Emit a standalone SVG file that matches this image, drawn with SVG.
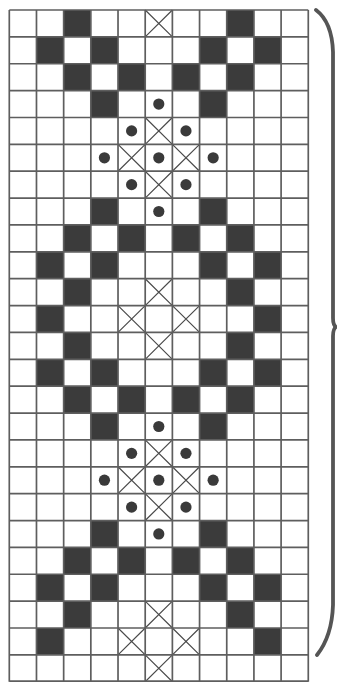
<svg xmlns="http://www.w3.org/2000/svg" width="337" height="682" viewBox="0 0 337 682">
<style>
.grid line{stroke:#5e5e5e;stroke-width:1.7}
.b{fill:#3b3b3b}
.x{stroke:#4a4a4a;stroke-width:1.2;fill:none}
.d{fill:#3a3a3a}
.brace{fill:none;stroke:#555;stroke-width:3.8;stroke-linecap:round;stroke-linejoin:round}
</style>
<defs>
<rect id="B" class="b" width="27.18" height="26.87"/>
<path id="X" class="x" d="M0,0 L27.18,26.87 M27.18,0 L0,26.87"/>
<circle id="D" class="d" cx="13.59" cy="13.43" r="5.6"/>
</defs>
<rect x="0" y="0" width="337" height="682" fill="#fff"/>
<g id="cells">
<use href="#B" x="63.66" y="10"/><use href="#B" x="226.74" y="10"/><use href="#X" x="145.2" y="10"/>
<use href="#B" x="36.48" y="36.87"/><use href="#B" x="90.84" y="36.87"/><use href="#B" x="199.56" y="36.87"/><use href="#B" x="253.92" y="36.87"/>
<use href="#B" x="63.66" y="63.74"/><use href="#B" x="118.02" y="63.74"/><use href="#B" x="172.38" y="63.74"/><use href="#B" x="226.74" y="63.74"/>
<use href="#B" x="90.84" y="90.61"/><use href="#B" x="199.56" y="90.61"/><use href="#D" x="145.2" y="90.61"/>
<use href="#D" x="118.02" y="117.48"/><use href="#X" x="145.2" y="117.48"/><use href="#D" x="172.38" y="117.48"/>
<use href="#D" x="90.84" y="144.35"/><use href="#X" x="118.02" y="144.35"/><use href="#D" x="145.2" y="144.35"/><use href="#X" x="172.38" y="144.35"/><use href="#D" x="199.56" y="144.35"/>
<use href="#D" x="118.02" y="171.22"/><use href="#X" x="145.2" y="171.22"/><use href="#D" x="172.38" y="171.22"/>
<use href="#B" x="90.84" y="198.09"/><use href="#B" x="199.56" y="198.09"/><use href="#D" x="145.2" y="198.09"/>
<use href="#B" x="63.66" y="224.96"/><use href="#B" x="118.02" y="224.96"/><use href="#B" x="172.38" y="224.96"/><use href="#B" x="226.74" y="224.96"/>
<use href="#B" x="36.48" y="251.83"/><use href="#B" x="90.84" y="251.83"/><use href="#B" x="199.56" y="251.83"/><use href="#B" x="253.92" y="251.83"/>
<use href="#B" x="63.66" y="278.7"/><use href="#B" x="226.74" y="278.7"/><use href="#X" x="145.2" y="278.7"/>
<use href="#B" x="36.48" y="305.57"/><use href="#B" x="253.92" y="305.57"/><use href="#X" x="118.02" y="305.57"/><use href="#X" x="172.38" y="305.57"/>
<use href="#B" x="63.66" y="332.44"/><use href="#B" x="226.74" y="332.44"/><use href="#X" x="145.2" y="332.44"/>
<use href="#B" x="36.48" y="359.31"/><use href="#B" x="90.84" y="359.31"/><use href="#B" x="199.56" y="359.31"/><use href="#B" x="253.92" y="359.31"/>
<use href="#B" x="63.66" y="386.18"/><use href="#B" x="118.02" y="386.18"/><use href="#B" x="172.38" y="386.18"/><use href="#B" x="226.74" y="386.18"/>
<use href="#B" x="90.84" y="413.05"/><use href="#B" x="199.56" y="413.05"/><use href="#D" x="145.2" y="413.05"/>
<use href="#D" x="118.02" y="439.92"/><use href="#X" x="145.2" y="439.92"/><use href="#D" x="172.38" y="439.92"/>
<use href="#D" x="90.84" y="466.79"/><use href="#X" x="118.02" y="466.79"/><use href="#D" x="145.2" y="466.79"/><use href="#X" x="172.38" y="466.79"/><use href="#D" x="199.56" y="466.79"/>
<use href="#D" x="118.02" y="493.66"/><use href="#X" x="145.2" y="493.66"/><use href="#D" x="172.38" y="493.66"/>
<use href="#B" x="90.84" y="520.53"/><use href="#B" x="199.56" y="520.53"/><use href="#D" x="145.2" y="520.53"/>
<use href="#B" x="63.66" y="547.4"/><use href="#B" x="118.02" y="547.4"/><use href="#B" x="172.38" y="547.4"/><use href="#B" x="226.74" y="547.4"/>
<use href="#B" x="36.48" y="574.27"/><use href="#B" x="90.84" y="574.27"/><use href="#B" x="199.56" y="574.27"/><use href="#B" x="253.92" y="574.27"/>
<use href="#B" x="63.66" y="601.14"/><use href="#B" x="226.74" y="601.14"/><use href="#X" x="145.2" y="601.14"/>
<use href="#B" x="36.48" y="628.01"/><use href="#B" x="253.92" y="628.01"/><use href="#X" x="118.02" y="628.01"/><use href="#X" x="172.38" y="628.01"/>
<use href="#X" x="145.2" y="654.88"/>
</g>
<g id="grid" class="grid">
<line x1="9.3" y1="10" x2="9.3" y2="681.75"/>
<line x1="36.48" y1="10" x2="36.48" y2="681.75"/>
<line x1="63.66" y1="10" x2="63.66" y2="681.75"/>
<line x1="90.84" y1="10" x2="90.84" y2="681.75"/>
<line x1="118.02" y1="10" x2="118.02" y2="681.75"/>
<line x1="145.2" y1="10" x2="145.2" y2="681.75"/>
<line x1="172.38" y1="10" x2="172.38" y2="681.75"/>
<line x1="199.56" y1="10" x2="199.56" y2="681.75"/>
<line x1="226.74" y1="10" x2="226.74" y2="681.75"/>
<line x1="253.92" y1="10" x2="253.92" y2="681.75"/>
<line x1="281.1" y1="10" x2="281.1" y2="681.75"/>
<line x1="308.28" y1="10" x2="308.28" y2="681.75"/>
<line x1="9.3" y1="10" x2="308.28" y2="10"/>
<line x1="9.3" y1="36.87" x2="308.28" y2="36.87"/>
<line x1="9.3" y1="63.74" x2="308.28" y2="63.74"/>
<line x1="9.3" y1="90.61" x2="308.28" y2="90.61"/>
<line x1="9.3" y1="117.48" x2="308.28" y2="117.48"/>
<line x1="9.3" y1="144.35" x2="308.28" y2="144.35"/>
<line x1="9.3" y1="171.22" x2="308.28" y2="171.22"/>
<line x1="9.3" y1="198.09" x2="308.28" y2="198.09"/>
<line x1="9.3" y1="224.96" x2="308.28" y2="224.96"/>
<line x1="9.3" y1="251.83" x2="308.28" y2="251.83"/>
<line x1="9.3" y1="278.7" x2="308.28" y2="278.7"/>
<line x1="9.3" y1="305.57" x2="308.28" y2="305.57"/>
<line x1="9.3" y1="332.44" x2="308.28" y2="332.44"/>
<line x1="9.3" y1="359.31" x2="308.28" y2="359.31"/>
<line x1="9.3" y1="386.18" x2="308.28" y2="386.18"/>
<line x1="9.3" y1="413.05" x2="308.28" y2="413.05"/>
<line x1="9.3" y1="439.92" x2="308.28" y2="439.92"/>
<line x1="9.3" y1="466.79" x2="308.28" y2="466.79"/>
<line x1="9.3" y1="493.66" x2="308.28" y2="493.66"/>
<line x1="9.3" y1="520.53" x2="308.28" y2="520.53"/>
<line x1="9.3" y1="547.4" x2="308.28" y2="547.4"/>
<line x1="9.3" y1="574.27" x2="308.28" y2="574.27"/>
<line x1="9.3" y1="601.14" x2="308.28" y2="601.14"/>
<line x1="9.3" y1="628.01" x2="308.28" y2="628.01"/>
<line x1="9.3" y1="654.88" x2="308.28" y2="654.88"/>
<line x1="9.3" y1="681.1" x2="308.28" y2="681.1"/>
</g>
<g id="bracket">
<path class="brace" d="M316,10 Q332,22 333,52 L333,318 Q333,325 336,327 Q333,329 333,336 L333,605 Q332,636 317,655"/>
</g>
</svg>
